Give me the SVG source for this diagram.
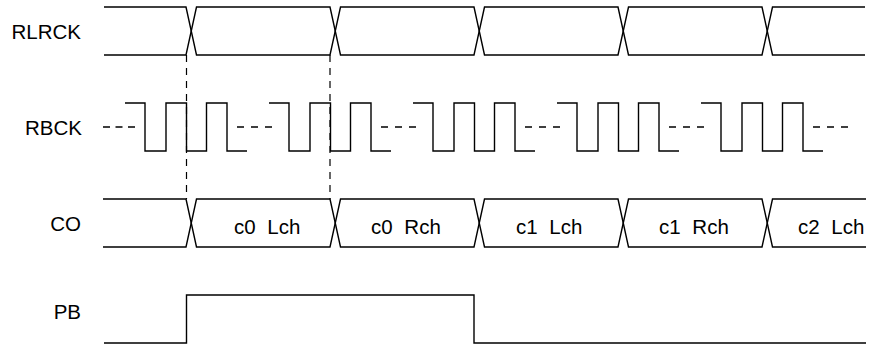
<svg xmlns="http://www.w3.org/2000/svg" width="870" height="346" viewBox="0 0 870 346">
<style>
.w{fill:none;stroke:#000;stroke-width:1.4;stroke-linejoin:miter}
.d{fill:none;stroke:#000;stroke-width:1.4;stroke-dasharray:7 7}
.v{fill:none;stroke:#000;stroke-width:1.2;stroke-dasharray:7 6}
.lbl{font-family:"Liberation Sans",Arial,sans-serif;font-size:20.5px;fill:#000;text-anchor:end}
.cell{font-family:"Liberation Sans",Arial,sans-serif;font-size:20.5px;fill:#000}
</style>
<rect width="870" height="346" fill="#fff"/>
<g id="RLRCK">
<text class="lbl" x="81" y="39">RLRCK</text>
<path class="w" d="M104,7 H186 L196.5,55 H330 L340.5,7 H474 L484.5,55 H618 L628.5,7 H762 L772.5,55 H865"/>
<path class="w" d="M104,55 H186 L196.5,7 H330 L340.5,55 H474 L484.5,7 H618 L628.5,55 H762 L772.5,7 H865"/>
</g>
<g id="RBCK">
<text class="lbl" x="82" y="135">RBCK</text>
<path class="w" d="M125,103 H145 V151 H166 V103 H186.5 V151 H206.5 V103 H227 V151 H247"/>
<path class="w" d="M269,103 H289 V151 H310 V103 H330.5 V151 H350.5 V103 H371 V151 H391"/>
<path class="w" d="M413,103 H433 V151 H454 V103 H474.5 V151 H494.5 V103 H515 V151 H535"/>
<path class="w" d="M557,103 H577 V151 H598 V103 H618.5 V151 H638.5 V103 H659 V151 H679"/>
<path class="w" d="M701,103 H721 V151 H742 V103 H762.5 V151 H782.5 V103 H803 V151 H823"/>
<path class="d" style="stroke-dasharray:7 5.5" d="M103,127 H135"/>
<path class="d" d="M237,127 H272 M381,127 H416 M525,127 H560 M669,127 H704 M813,127 H848"/>
</g>
<g id="CO">
<text class="lbl" x="81" y="231">CO</text>
<path class="w" d="M103,199 H186 L196.5,247 H330 L340.5,199 H474 L484.5,247 H618 L628.5,199 H762 L772.5,247 H866"/>
<path class="w" d="M103,247 H186 L196.5,199 H330 L340.5,247 H474 L484.5,199 H618 L628.5,247 H762 L772.5,199 H866"/>
<text class="cell" x="234" y="234">c0 <tspan dx="6">Lch</tspan></text>
<text class="cell" x="371" y="234">c0 <tspan dx="6">Rch</tspan></text>
<text class="cell" x="516" y="234">c1 <tspan dx="6">Lch</tspan></text>
<text class="cell" x="659" y="234">c1 <tspan dx="6">Rch</tspan></text>
<text class="cell" x="798" y="234">c2 <tspan dx="6">Lch</tspan></text>
</g>
<g id="PB">
<text class="lbl" x="81" y="319">PB</text>
<path class="w" d="M104,343 H186.5 V295 H474 V343 H866"/>
</g>
<g id="connectors">
<path class="v" d="M186.5,55 V199"/>
<path class="v" d="M330,55 V199"/>
</g>
</svg>
